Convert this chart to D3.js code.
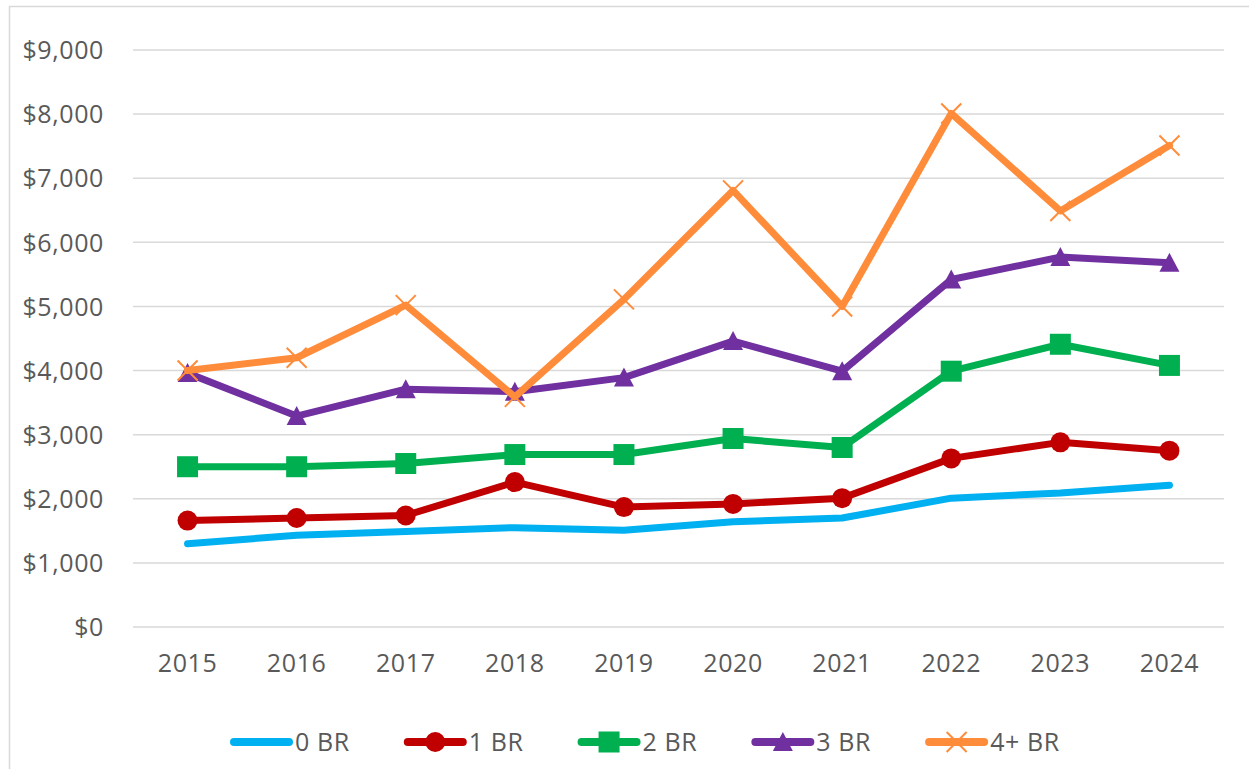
<!DOCTYPE html>
<html>
<head>
<meta charset="utf-8">
<script src="https://cdn.jsdelivr.net/npm/d3@7"></script>
<style>
  html, body { margin: 0; padding: 0; background: #fff; }
  svg { display: block; }
  text { font-family: "Open Sans", sans-serif; fill: #595959; letter-spacing: 0.6px; }
</style>
</head>
<body>
<svg id="chart" width="1249" height="769"></svg>
<script>
// ---- data ----
const years = ["2015","2016","2017","2018","2019","2020","2021","2022","2023","2024"];
const yTicks = [0,1000,2000,3000,4000,5000,6000,7000,8000,9000];
const seriesNames = ["0 BR","1 BR","2 BR","3 BR","4+ BR"];
const br0 = [1300,1430,1490,1550,1510,1640,1700,2010,2090,2210];
const br1 = [1660,1700,1740,2260,1870,1920,2010,2630,2880,2750];
const br2 = [2500,2500,2550,2690,2690,2940,2800,3990,4410,4080];
const br3 = [3960,3290,3710,3670,3890,4460,3990,5420,5770,5680];
const br4 = [4000,4200,5020,3590,5110,6810,5000,8010,6490,7510];

const colors = ["#00B0F0","#C00000","#00B050","#7030A0","#FF8C3A"];
const markers = ["none","circle","square","triangle","x"];
const seriesValues = [br0, br1, br2, br3, br4];

const svg = d3.select("#chart");

// chart border (Excel-style)
svg.append("path")
  .attr("d", "M9.5,769 L9.5,6.5 L1249,6.5")
  .attr("fill","none").attr("stroke","#d9d9d9").attr("stroke-width",1.5);

const x = d3.scaleBand().domain(years).range([133, 1224]).padding(0);
const y = d3.scaleLinear().domain([0, 9000]).range([627, 50]);

// gridlines
svg.append("g").selectAll("line").data(yTicks).join("line")
  .attr("x1", 133).attr("x2", 1224)
  .attr("y1", d => y(d)).attr("y2", d => y(d))
  .attr("stroke", "#d9d9d9").attr("stroke-width", 1.5);

// y axis labels
const fmt = d => "$" + d3.format(",")(d);
const yAxis = d3.axisLeft(y).tickValues(yTicks).tickFormat(fmt).tickSize(0).tickPadding(0);
const gy = svg.append("g").attr("transform", "translate(104,0)").call(yAxis);
gy.select(".domain").remove();
gy.selectAll("text").style("font-size","25px").style("font-family","'Open Sans', sans-serif").attr("fill","#595959").attr("dy","0.35em");

// x axis labels
const xAxis = d3.axisBottom(x).tickSize(0).tickPadding(0);
const gx = svg.append("g").attr("transform", "translate(0,663)").call(xAxis);
gx.select(".domain").remove();
gx.selectAll("text").style("font-size","25px").style("font-family","'Open Sans', sans-serif").attr("fill","#595959").attr("dy","0.35em");

const cx = d => x(d) + x.bandwidth()/2;

function drawMarker(g, type, color) {
  if (type === "circle") {
    g.append("circle").attr("r", 10).attr("fill", color);
  } else if (type === "square") {
    g.append("rect").attr("x",-10.5).attr("y",-10.5).attr("width",21).attr("height",21).attr("fill", color);
  } else if (type === "triangle") {
    g.append("path").attr("d","M0,-10 L10,9 L-10,9 Z").attr("fill", color);
  } else if (type === "x") {
    g.append("path").attr("d","M-10,-10 L10,10 M-10,10 L10,-10")
      .attr("stroke", color).attr("stroke-width", 2).attr("fill","none");
  }
}

const line = d3.line().x((d,i) => cx(years[i])).y(d => y(d));

seriesValues.forEach((vals, si) => {
  const g = svg.append("g");
  g.append("path").datum(vals).attr("d", line)
    .attr("fill","none").attr("stroke", colors[si]).attr("stroke-width", 7)
    .attr("stroke-linejoin","round").attr("stroke-linecap","round");
  vals.forEach((v, i) => {
    const mg = g.append("g").attr("transform", `translate(${cx(years[i])},${y(v)})`);
    drawMarker(mg, markers[si], colors[si]);
  });
});

// legend
const legend = svg.append("g");
let lx = 230;
const ly = 742;
seriesNames.forEach((name, si) => {
  const g = legend.append("g").attr("transform", `translate(${lx},${ly})`);
  g.append("line").attr("x1", 4).attr("x2", 59).attr("y1", 0).attr("y2", 0)
    .attr("stroke", colors[si]).attr("stroke-width", 8).attr("stroke-linecap","round");
  const mg = g.append("g").attr("transform","translate(31.5,0)");
  drawMarker(mg, markers[si], colors[si]);
  const t = g.append("text").attr("x", 65).attr("y", 0).attr("dy","0.35em")
    .style("font-size","25px").text(name);
  const w = t.node().getComputedTextLength();
  lx += 65 + w + 54;
});
</script>
</body>
</html>
